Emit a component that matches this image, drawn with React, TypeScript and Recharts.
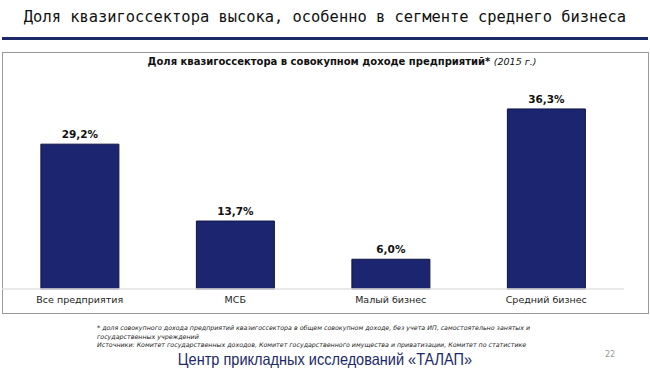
import { BarChart, Bar, XAxis, YAxis, LabelList } from 'recharts';

const categories = ['Все предприятия', 'МСБ', 'Малый бизнес', 'Средний бизнес'];
const shares = [29.2, 13.7, 6.0, 36.3];

const data = categories.map((name, i) => ({ name, value: shares[i] }));

const BAR_FILL = '#1c2670';
const NAVY = '#1b2a66';

const fmt = (v: any) => `${Number(v).toFixed(1).replace('.', ',')}%`;

export default function App() {
  return (
    <div
      style={{
        position: 'absolute',
        left: 0,
        top: 0,
        width: 650,
        height: 376,
        background: '#fff',
        overflow: 'hidden',
        fontFamily: "'DejaVu Sans', Verdana, sans-serif",
      }}
    >
      {/* slide header */}
      <div
        style={{
          position: 'absolute',
          left: 0,
          width: 650,
          top: 8,
          textAlign: 'center',
          fontFamily: "'DejaVu Sans Mono', monospace",
          fontSize: 15.4,
          color: '#111',
        }}
      >
        Доля квазигоссектора высока, особенно в сегменте среднего бизнеса
      </div>
      <div style={{ position: 'absolute', left: 2, width: 646, top: 37, height: 2.5, background: NAVY }} />

      {/* chart box */}
      <div
        style={{
          position: 'absolute',
          left: 2,
          top: 52,
          width: 645,
          height: 260,
          border: '1px solid #9a9a9a',
        }}
      />
      <div
        style={{
          position: 'absolute',
          left: 142,
          width: 400,
          top: 56,
          textAlign: 'center',
          fontSize: 10,
          fontWeight: 'bold',
          color: '#111',
        }}
      >
        Доля квазигоссектора в совокупном доходе предприятий*{' '}
        <span style={{ fontWeight: 'normal', fontStyle: 'italic', fontSize: 9.5 }}>(2015 г.)</span>
      </div>

      <div style={{ position: 'absolute', left: 0, top: 0 }}>
        <BarChart
          width={650}
          height={376}
          data={data}
          margin={{ top: 90.6, right: 26, bottom: 67, left: 2 }}
          barCategoryGap="25%"
        >
          <XAxis
            dataKey="name"
            height={20}
            tickLine={false}
            tickSize={0}
            tickMargin={7}
            axisLine={{ stroke: '#e2e2e2', strokeWidth: 1.5 }}
            tick={{ fontSize: 9.5, fill: '#222' }}
            interval={0}
          />
          <YAxis hide domain={[0, 40]} />
          <Bar dataKey="value" fill={BAR_FILL} stroke="#0e1542" strokeWidth={1} isAnimationActive={false}>
            <LabelList
              dataKey="value"
              position="top"
              offset={6}
              formatter={fmt}
              style={{ fontSize: 10.5, fontWeight: 'bold', fill: '#111' }}
            />
          </Bar>
        </BarChart>
      </div>

      {/* footnotes */}
      <div
        style={{
          position: 'absolute',
          left: 97,
          top: 324,
          fontSize: 6.3,
          lineHeight: '8.6px',
          fontStyle: 'italic',
          whiteSpace: 'nowrap',
          color: '#222',
        }}
      >
        <div>* доля совокупного дохода предприятий квазигоссектора в общем совокупном доходе, без учета ИП, самостоятельно занятых и</div>
        <div>государственных учреждений</div>
        <div>Источники: Комитет государственных доходов, Комитет государственного имущества и приватизации, Комитет по статистике</div>
      </div>

      <div
        style={{
          position: 'absolute',
          left: 0,
          width: 650,
          top: 350,
          textAlign: 'center',
          fontFamily: "'Liberation Sans', Arial, sans-serif",
          fontSize: 16.5,
          color: NAVY,
          transform: 'scaleX(0.88)',
          transformOrigin: '325px 0',
        }}
      >
        Центр прикладных исследований «ТАЛАП»
      </div>
      <div
        style={{
          position: 'absolute',
          left: 605,
          top: 350,
          fontSize: 8,
          color: '#999',
        }}
      >
        22
      </div>
    </div>
  );
}
